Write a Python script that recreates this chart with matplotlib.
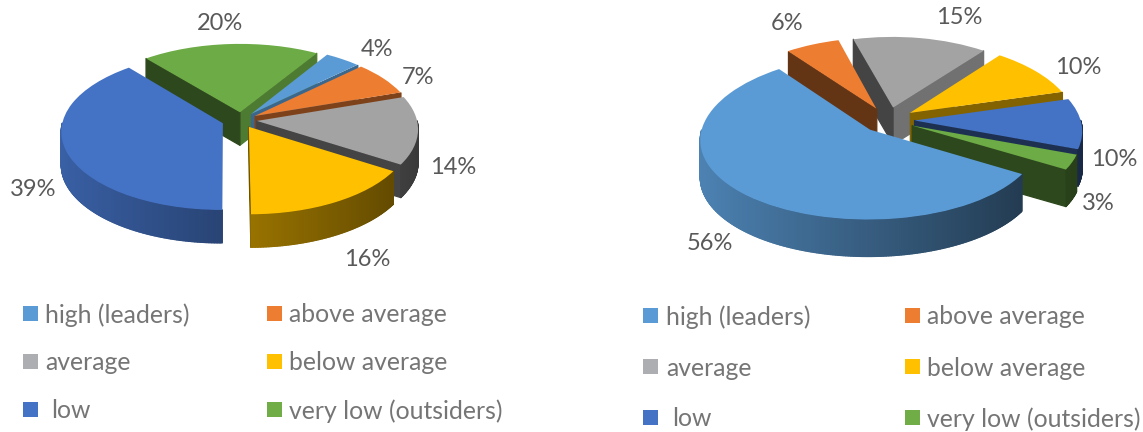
import numpy as np
from matplotlib import pyplot as plt
from matplotlib.collections import PolyCollection
from matplotlib.colors import to_rgb
from matplotlib.patches import Rectangle
from matplotlib.transforms import Transform

categories = ['high (leaders)', 'above average', 'average', 'below average', ' low', 'very low (outsiders)']
left_values = [4, 7, 14, 16, 39, 20]
right_values = [56, 6, 15, 10, 10, 3]
left_explode = [0.10, 0.10, 0.10, 0.10, 0.12, 0.10]
right_explode = [0.16, 0.16, 0.16, 0.16, 0.16, 0.16]
colors = ['#5B9BD5', '#ED7D31', '#A3A3A3', '#FFC000', '#4472C4', '#6CAB45']
legend_colors = ['#5B9BD5', '#ED7D31', '#ADAEB2', '#FFC000', '#4472C4', '#70AD47']

# label centres in pixels
left_label_pos = [(377, 49), (418, 77), (453, 168), (367, 259), (33, 190), (220, 23)]
right_label_pos = [(710, 243), (787, 24), (959, 18), (1078, 68), (1114, 160), (1098, 203)]

plt.rcParams['font.family'] = ['Lato', 'DejaVu Sans']


class PieProjection(Transform):
    # flattens a unit pie into a tilted ellipse, the back half is shorter and narrower
    input_dims = 2
    output_dims = 2

    def __init__(self, cx, cy, rx, front, back, narrow):
        super().__init__()
        self.cx, self.cy, self.rx = cx, cy, rx
        self.a = (front + back) / 2
        self.b = (front - back) / 2
        self.narrow = narrow

    def transform_non_affine(self, values):
        values = np.asarray(values, dtype=float)
        x, y = values[:, 0], values[:, 1]
        return np.column_stack([self.cx + self.rx * x * (1 - self.narrow * y),
                                self.cy - y * (self.a - self.b * y)])


def shaded(color, f):
    return tuple(min(1, c * f) for c in to_rgb(color))


def draw_pie(ax, values, explode, start, cx, cy, rx, front, back, depth, narrow):
    proj = PieProjection(cx, cy, rx, front, back, narrow)
    wedges, _ = ax.pie(values, explode=explode, colors=colors, startangle=start,
                       counterclock=False, radius=1)
    mids = [np.radians((w.theta1 + w.theta2) / 2) for w in wedges]
    order = np.argsort([-np.sin(m) for m in mids])
    for rank, i in enumerate(order):
        w = wedges[i]
        color = colors[i]
        c = np.array(w.center)
        a, b = np.radians(w.theta1), np.radians(w.theta2)
        quads, shades = [], []

        # flat cut faces, only those turned towards the viewer
        for ang, nx, visible in [(a, np.sin(a), np.cos(a) > 0), (b, -np.sin(b), np.cos(b) < -1e-6)]:
            if visible:
                tip = c + [np.cos(ang), np.sin(ang)]
                p = proj.transform(np.array([c, tip]))
                quads.append([p[0], p[1], p[1] + [0, depth], p[0] + [0, depth]])
                shades.append(shaded(color, 0.42 + 0.35 * max(nx, 0)))

        # outer rim, front half only
        th = np.linspace(a, b, max(int(np.degrees(b - a)), 2) * 2)
        rim = c + np.column_stack([np.cos(th), np.sin(th)])
        p = proj.transform(rim)
        for j in range(len(th) - 1):
            tm = (th[j] + th[j + 1]) / 2
            if np.sin(tm) < 0:
                quads.append([p[j], p[j + 1], p[j + 1] + [0, depth], p[j] + [0, depth]])
                shades.append(shaded(color, 0.85 - 0.5 * (np.cos(tm) + 1) / 2))

        if quads:
            side = PolyCollection(quads, facecolors=shades, edgecolors=shades, linewidths=0.9,
                                  zorder=2 + 2 * rank)
            ax.add_collection(side, autolim=False)
        w.set_transform(proj + ax.transData)
        w.set_zorder(3 + 2 * rank)
    return wedges


def draw_legend(ax, xs, text_xs, low_x, rows):
    for i, name in enumerate(categories):
        x = xs[i % 2]
        y = rows[i // 2]
        ax.add_patch(Rectangle((x, y - 7.5), 15, 15, facecolor=legend_colors[i], edgecolor='none'))
        tx = low_x if name.startswith(' ') else text_xs[i % 2]
        ax.text(tx, y, name.strip(), fontsize=legend_size, color='#757575', ha='left', va='center_baseline')


legend_size = 17.8
label_size = 17

fig = plt.figure(figsize=(11.43, 4.32), dpi=100, facecolor='white')
ax = fig.add_axes([0, 0, 1, 1])

draw_pie(ax, left_values, left_explode, 58, 241, 120, 160, 86, 70, 33, 0.10)
draw_pie(ax, right_values, right_explode, -31, 888, 120, 166, 88, 73, 37, 0.12)

ax.set_aspect('auto')
ax.set_xlim(0, 1143)
ax.set_ylim(432, 0)
ax.axis('off')

for v, (x, y) in zip(left_values, left_label_pos):
    ax.text(x, y, f'{v}%', fontsize=label_size, color='#595959', ha='center', va='center', zorder=30)
for v, (x, y) in zip(right_values, right_label_pos):
    ax.text(x, y, f'{v}%', fontsize=label_size, color='#595959', ha='center', va='center', zorder=30)

draw_legend(ax, (23, 267), (45, 289), 51, (313, 361, 409))
draw_legend(ax, (643, 905), (666, 927), 672, (315, 366, 417))

fig.savefig('out.png', dpi=100, facecolor='white')
